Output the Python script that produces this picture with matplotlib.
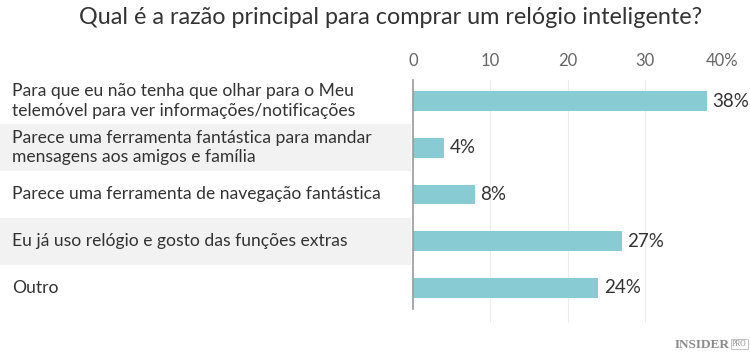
import numpy as np
import matplotlib.pyplot as plt
from matplotlib.patches import Rectangle

title = "Qual é a razão principal para comprar um relógio inteligente?"
categories = [
    "Para que eu não tenha que olhar para o Meu\ntelemóvel para ver informações/notificações",
    "Parece uma ferramenta fantástica para mandar\nmensagens aos amigos e família",
    "Parece uma ferramenta de navegação fantástica",
    "Eu já uso relógio e gosto das funções extras",
    "Outro",
]
values = [38, 4, 8, 27, 24]
ticks = [0, 10, 20, 30, 40]
tick_labels = ["0", "10", "20", "30", "40%"]

W, H = 750, 355
fig = plt.figure(figsize=(W / 100, H / 100), dpi=100)
fig.patch.set_facecolor("white")
FONT = ["Lato", "DejaVu Sans"]

# axes area in pixels: x 413..722 (0..40), y 80..323
ax = fig.add_axes([413 / W, 1 - 323 / H, (722 - 413) / W, (323 - 80) / H])
ax.set_xlim(0, 40)
y = np.arange(len(values))
top, bottom = -0.45, 4.75
ax.set_ylim(bottom, top)
for s in ax.spines.values():
    s.set_visible(False)
ax.set_yticks([])
ax.xaxis.tick_top()
ax.set_xticks(ticks)
ax.set_xticklabels(tick_labels, family=FONT, fontsize=12, color="#666666")
ax.tick_params(axis="x", length=0, pad=8)

for t in ticks[1:]:
    ax.axvline(t, color="#ededed", lw=0.8, zorder=0)
ax.plot([0, 0], [top, 4.45], color="#999999", lw=1.2, zorder=3, clip_on=False)

# alternating bands behind labels
for i in range(len(values)):
    if i % 2 == 1:
        ax.add_patch(Rectangle((-53.5, i - 0.5), 53.2, 1.0, facecolor="#f2f2f2",
                               edgecolor="none", clip_on=False, zorder=0))

ax.barh(y, values, height=0.42, color="#88cbd3", zorder=2)
for yi, v, lab in zip(y, values, categories):
    ax.text(v + 0.7, yi, f"{v}%", va="center", ha="left", fontsize=13.5,
            color="#333333", family=FONT, clip_on=False)
    ax.text(-51.9, yi, lab, va="center", ha="left", fontsize=12.6,
            color="#333333", family=FONT, linespacing=1.25, clip_on=False)

fig.text(391 / W, 1 - 17 / H, title, ha="center", va="center", fontsize=16.8,
         color="#333333", family=FONT)

fig.text(1 - 20 / W, 1 - 345 / H, "INSIDER", ha="right", va="center", fontsize=9.5,
         color="#8a8a8a", weight="bold", family=["Liberation Serif", "DejaVu Serif"])
fig.text(1 - 3 / W, 1 - 344 / H, "PRO", ha="right", va="center", fontsize=5.5,
         color="#8a8a8a", family=["Liberation Serif", "DejaVu Serif"],
         bbox=dict(boxstyle="square,pad=0.15", fc="white", ec="#aaaaaa", lw=0.5))

fig.savefig("out.png", dpi=100, facecolor="white")
